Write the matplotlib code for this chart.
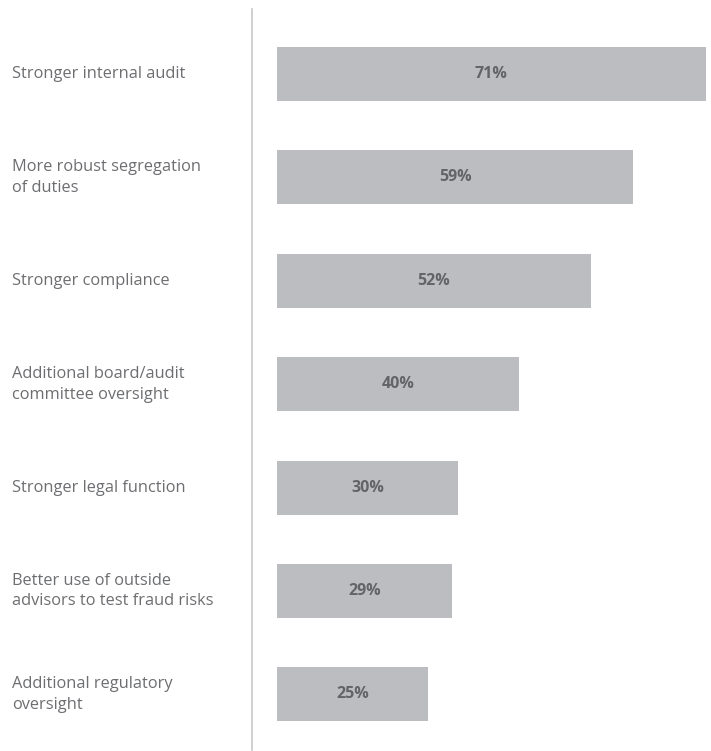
import matplotlib.pyplot as plt
from matplotlib import transforms

# Survey categories and share of respondents (%)
labels = [
    "Stronger internal audit",
    "More robust segregation\nof duties",
    "Stronger compliance",
    "Additional board/audit\ncommittee oversight",
    "Stronger legal function",
    "Better use of outside\nadvisors to test fraud risks",
    "Additional regulatory\noversight",
]
values = [71, 59, 52, 40, 30, 29, 25]

bar_color = "#bcbdc0"
text_color = "#6d6e71"
value_color = "#636466"

plt.rcParams['font.family'] = ['Open Sans', 'DejaVu Sans']

fig = plt.figure(figsize=(7.11, 7.51), dpi=100)
ax = fig.add_axes([252 / 711, 1 / 751, 459 / 711, 741 / 751])

pos = list(range(len(values)))
ax.barh(pos, values, height=0.522, left=0, color=bar_color)
ax.set_xlim(-4.14, 71.85)
ax.set_ylim(6.538, -0.629)

for y, v in zip(pos, values):
    ax.text(v / 2, y, f"{v}%", ha="center", va="center",
            fontsize=11.5, fontweight="bold", color=value_color)

# category labels sit at a fixed figure x, aligned with each bar
trans = transforms.blended_transform_factory(fig.transFigure, ax.transData)
for y, lab in zip(pos, labels):
    ax.text(12 / 711, y, lab, transform=trans, ha="left", va="center",
            fontsize=11.8, color=text_color, linespacing=1.4)

for side in ["top", "right", "bottom"]:
    ax.spines[side].set_visible(False)
ax.spines["left"].set_color("#c8c8c8")
ax.spines["left"].set_linewidth(1.2)
ax.set_xticks([])
ax.set_yticks([])

fig.savefig("out.png", dpi=100)
